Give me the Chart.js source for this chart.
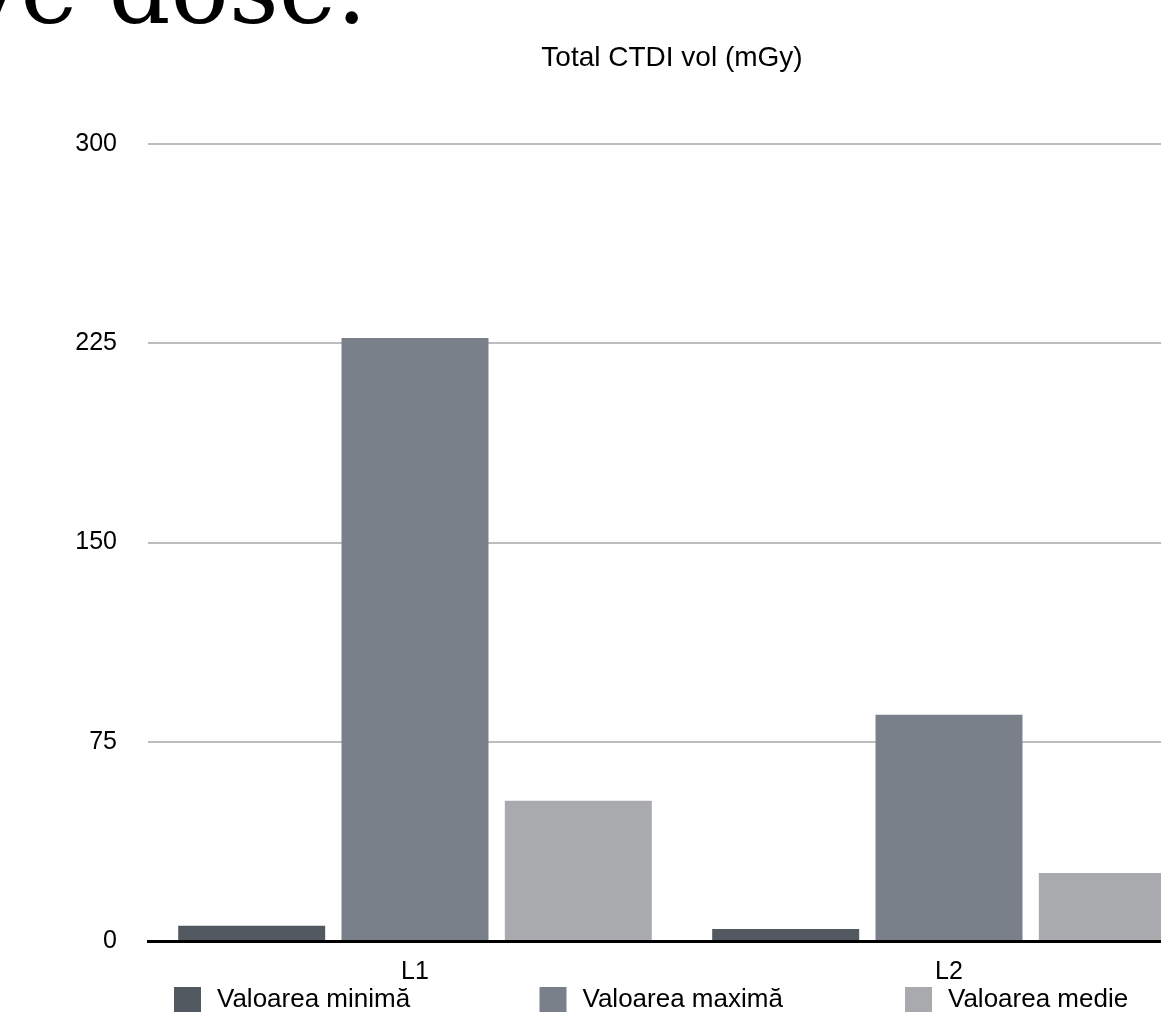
<!DOCTYPE html>
<html>
<head>
<meta charset="utf-8">
<title>Total CTDI vol (mGy)</title>
<script src="https://cdn.jsdelivr.net/npm/chart.js@4"></script>
<style>
  html, body { margin: 0; padding: 0; background: #ffffff; overflow: hidden; }
  body { width: 1161px; height: 1023px; position: relative; }
  #heading {
    position: absolute;
    right: calc(100% - 367px);
    top: -60px;
    font-family: "DejaVu Serif", serif;
    font-size: 97px;
    line-height: 100px;
    white-space: nowrap;
    color: #000;
  }
  #chart { position: absolute; left: 0; top: 0; }
</style>
</head>
<body>
<div id="heading">Effective dose.</div>
<canvas id="chart" width="1216" height="1023" style="width:1216px;height:1023px"></canvas>
<script>
// Total CTDI vol per location
const categories = ['L1', 'L2'];
const seriesLabels = ['Valoarea minimă', 'Valoarea maximă', 'Valoarea medie'];
const minValues = [5.7, 4.5];
const maxValues = [227, 85.2];
const meanValues = [52.8, 25.6];
const yTicks = [0, 75, 150, 225, 300];
const chartTitle = 'Total CTDI vol (mGy)';

const seriesColors = ['#525960', '#7a808a', '#a8aaae'];
const FONT = "'Liberation Sans', Arial, Helvetica, sans-serif";

// Title drawn above the plot area
const titlePlugin = {
  id: 'plotTitle',
  afterDraw(chart) {
    const { ctx, chartArea } = chart;
    ctx.save();
    ctx.font = '28px ' + FONT;
    ctx.fillStyle = '#000';
    ctx.textAlign = 'center';
    ctx.textBaseline = 'middle';
    ctx.fillText(chartTitle, (chartArea.left + chartArea.right) / 2 - 10, 58);
    ctx.restore();
  }
};

// Legend laid out in evenly spaced columns under the axis
const columnLegend = {
  id: 'columnLegend',
  afterDraw(chart) {
    const { ctx, chartArea } = chart;
    ctx.save();
    ctx.font = '26px ' + FONT;
    ctx.textBaseline = 'middle';
    ctx.textAlign = 'left';
    chart.data.datasets.forEach((ds, i) => {
      const x = chartArea.left + 26 + i * 365.5;
      const y = chart.height - 36;
      ctx.fillStyle = ds.backgroundColor;
      ctx.fillRect(x, y, 27, 25);
      ctx.fillStyle = '#000';
      ctx.fillText(ds.label, x + 43, y + 13);
    });
    ctx.restore();
  }
};

new Chart(document.getElementById('chart'), {
  type: 'bar',
  data: {
    labels: categories,
    datasets: [
      { label: seriesLabels[0], data: minValues, backgroundColor: seriesColors[0] },
      { label: seriesLabels[1], data: maxValues, backgroundColor: seriesColors[1] },
      { label: seriesLabels[2], data: meanValues, backgroundColor: seriesColors[2] }
    ]
  },
  options: {
    responsive: false,
    animation: false,
    devicePixelRatio: 1,
    layout: { padding: { top: 144, right: 0, bottom: 0, left: 0 } },
    datasets: { bar: { categoryPercentage: 0.9175, barPercentage: 0.9, borderWidth: 0 } },
    plugins: {
      legend: { display: false },
      title: { display: false },
      tooltip: { enabled: false }
    },
    scales: {
      x: {
        grid: { display: false },
        border: { display: true, color: '#000', width: 3 },
        ticks: { color: '#000', font: { family: FONT, size: 25 }, padding: 8 },
        afterFit(scale) { scale.height = 82; }
      },
      y: {
        min: 0,
        max: 300,
        afterBuildTicks(scale) { scale.ticks = yTicks.map(v => ({ value: v })); },
        grid: { color: '#bdbdbd', lineWidth: 2, drawTicks: false },
        border: { display: false },
        ticks: { color: '#000', font: { family: FONT, size: 25 }, padding: 31 },
        afterFit(scale) { scale.width = 148; }
      }
    }
  },
  plugins: [titlePlugin, columnLegend]
});
</script>
</body>
</html>
